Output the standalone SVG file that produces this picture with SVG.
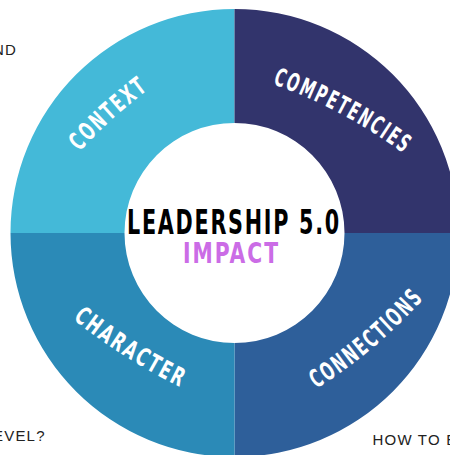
<svg xmlns="http://www.w3.org/2000/svg" width="450" height="455" viewBox="0 0 450 455">
  <style>
    .seg { stroke: none; }
    .label { font-family: "Liberation Sans Narrow", "DejaVu Sans Condensed", "Liberation Sans", sans-serif; font-weight: bold; font-size: 25px; fill: #ffffff; letter-spacing: 3px; }
    .title { font-family: "Liberation Sans Narrow", "DejaVu Sans Condensed", "Liberation Sans", sans-serif; font-weight: bold; letter-spacing: 2.5px; }
    .side { font-family: "Liberation Sans", Arial, sans-serif; font-size: 15px; fill: #222222; letter-spacing: 1.2px; }
  </style>
  <defs>
    <path id="p-context" d="M79.5,151.7 A500,500 0 0,1 149.5,88.7"/>
    <path id="p-competencies" d="M272.5,84 A500,500 0 0,1 405.5,155"/>
    <path id="p-character" d="M72.7,319 A600,600 0 0,0 181.7,388"/>
    <path id="p-connections" d="M316.2,388.8 A500,500 0 0,0 425.4,296.5"/>
  </defs>
  <rect width="450" height="455" fill="#ffffff"/>

  <!-- partial surrounding captions -->
  <text class="side" x="-7" y="55">ND</text>
  <text class="side" x="-7" y="441">EVEL?</text>
  <text class="side" x="372.5" y="445">HOW TO E</text>

  <g id="context">
    <path class="seg" fill="#44B9D8" d="M10.5,233 A224,224 0 0,1 234.5,9 L234.5,123 A110,110 0 0,0 124.5,233 Z"/>
    <text class="label"><textPath href="#p-context" textLength="94" lengthAdjust="spacingAndGlyphs">CONTEXT</textPath></text>
  </g>
  <g id="competencies">
    <path class="seg" fill="#32346C" d="M234.5,9 A224,224 0 0,1 458.5,233 L344.5,233 A110,110 0 0,0 234.5,123 Z"/>
    <text class="label"><textPath href="#p-competencies" textLength="150" lengthAdjust="spacingAndGlyphs">COMPETENCIES</textPath></text>
  </g>
  <g id="connections">
    <path class="seg" fill="#2E5F9A" d="M458.5,233 A224,224 0 0,1 234.5,457 L234.5,343 A110,110 0 0,0 344.5,233 Z"/>
    <text class="label"><textPath href="#p-connections" textLength="142" lengthAdjust="spacingAndGlyphs">CONNECTIONS</textPath></text>
  </g>
  <g id="character">
    <path class="seg" fill="#2B8AB7" d="M234.5,457 A224,224 0 0,1 10.5,233 L124.5,233 A110,110 0 0,0 234.5,343 Z"/>
    <text class="label"><textPath href="#p-character" textLength="129" lengthAdjust="spacingAndGlyphs">CHARACTER</textPath></text>
  </g>

  <g id="hub">
    <text class="title" x="127" y="234" font-size="33.5" fill="#000000" textLength="214" lengthAdjust="spacingAndGlyphs">LEADERSHIP 5.0</text>
    <text class="title" x="183" y="263" font-size="28.6" fill="#CB6CE6" textLength="97" lengthAdjust="spacingAndGlyphs">IMPACT</text>
  </g>
</svg>
